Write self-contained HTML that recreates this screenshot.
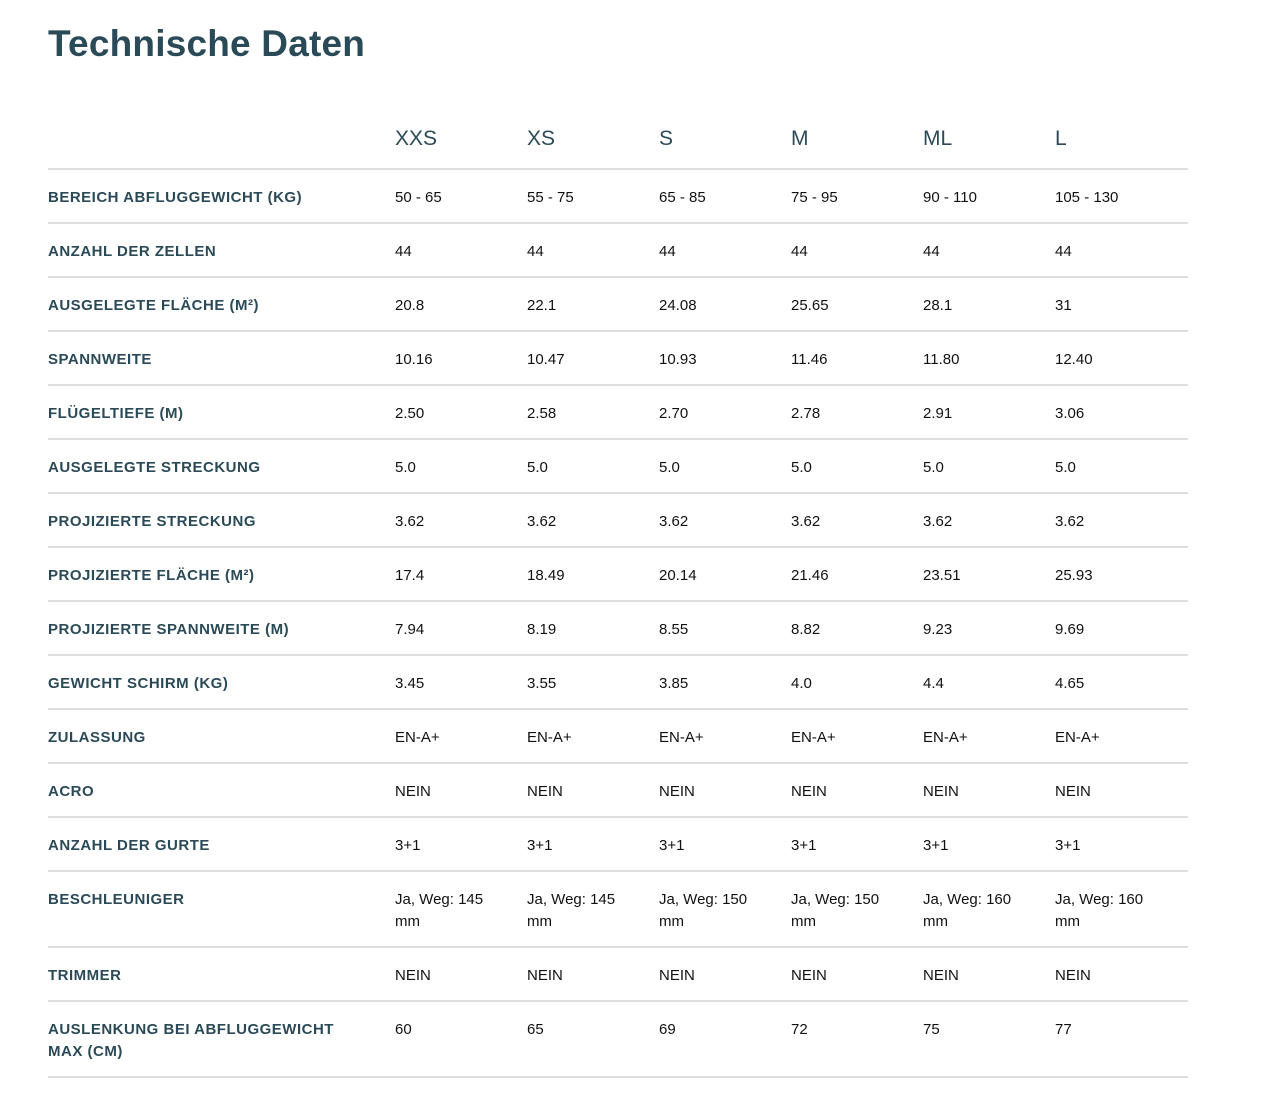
<!DOCTYPE html>
<html><head><meta charset="utf-8"><style>
body{margin:0;width:1268px;height:1114px;background:#fff;font-family:"Liberation Sans",sans-serif;position:relative;overflow:hidden}
h1{position:absolute;left:48px;top:23px;margin:0;font-size:37px;font-weight:bold;color:#2b4a57;letter-spacing:0.2px}
.hd{position:absolute;top:127px;font-size:21px;color:#2b4a57}
.ln{position:absolute;left:48px;width:1140px;height:2px;background:#dedede}
.c{position:absolute;font-size:15px;line-height:22px;color:#111}
.l{position:absolute;left:48px;font-size:15px;line-height:22px;font-weight:bold;color:#2b4a57;letter-spacing:0.5px}
</style></head><body>
<h1>Technische Daten</h1>
<div id="t"></div>
<script>
var cols=[395,527,659,791,923,1055],heads=["XXS","XS","S","M","ML","L"];
var h="";heads.forEach(function(s,i){h+='<div class="hd" style="left:'+cols[i]+'px">'+s+'</div>'});
var rows=[
["BEREICH ABFLUGGEWICHT (KG)",["50 - 65","55 - 75","65 - 85","75 - 95","90 - 110","105 - 130"]],
["ANZAHL DER ZELLEN",["44","44","44","44","44","44"]],
["AUSGELEGTE FLÄCHE (M²)",["20.8","22.1","24.08","25.65","28.1","31"]],
["SPANNWEITE",["10.16","10.47","10.93","11.46","11.80","12.40"]],
["FLÜGELTIEFE (M)",["2.50","2.58","2.70","2.78","2.91","3.06"]],
["AUSGELEGTE STRECKUNG",["5.0","5.0","5.0","5.0","5.0","5.0"]],
["PROJIZIERTE STRECKUNG",["3.62","3.62","3.62","3.62","3.62","3.62"]],
["PROJIZIERTE FLÄCHE (M²)",["17.4","18.49","20.14","21.46","23.51","25.93"]],
["PROJIZIERTE SPANNWEITE (M)",["7.94","8.19","8.55","8.82","9.23","9.69"]],
["GEWICHT SCHIRM (KG)",["3.45","3.55","3.85","4.0","4.4","4.65"]],
["ZULASSUNG",["EN-A+","EN-A+","EN-A+","EN-A+","EN-A+","EN-A+"]],
["ACRO",["NEIN","NEIN","NEIN","NEIN","NEIN","NEIN"]],
["ANZAHL DER GURTE",["3+1","3+1","3+1","3+1","3+1","3+1"]],
["BESCHLEUNIGER",["Ja, Weg: 145<br>mm","Ja, Weg: 145<br>mm","Ja, Weg: 150<br>mm","Ja, Weg: 150<br>mm","Ja, Weg: 160<br>mm","Ja, Weg: 160<br>mm"],76],
["TRIMMER",["NEIN","NEIN","NEIN","NEIN","NEIN","NEIN"]],
["AUSLENKUNG BEI ABFLUGGEWICHT<br>MAX (CM)",["60","65","69","72","75","77"],76]
];
var y=168;h+='<div class="ln" style="top:'+y+'px"></div>';
rows.forEach(function(r){var t=y+1+18;
h+='<div class="l" style="top:'+t+'px">'+r[0]+'</div>';
r[1].forEach(function(v,i){h+='<div class="c" style="left:'+cols[i]+'px;top:'+t+'px">'+v+'</div>'});
y+=r[2]||54;h+='<div class="ln" style="top:'+y+'px"></div>';});
document.getElementById("t").innerHTML=h;
</script>
</body></html>
